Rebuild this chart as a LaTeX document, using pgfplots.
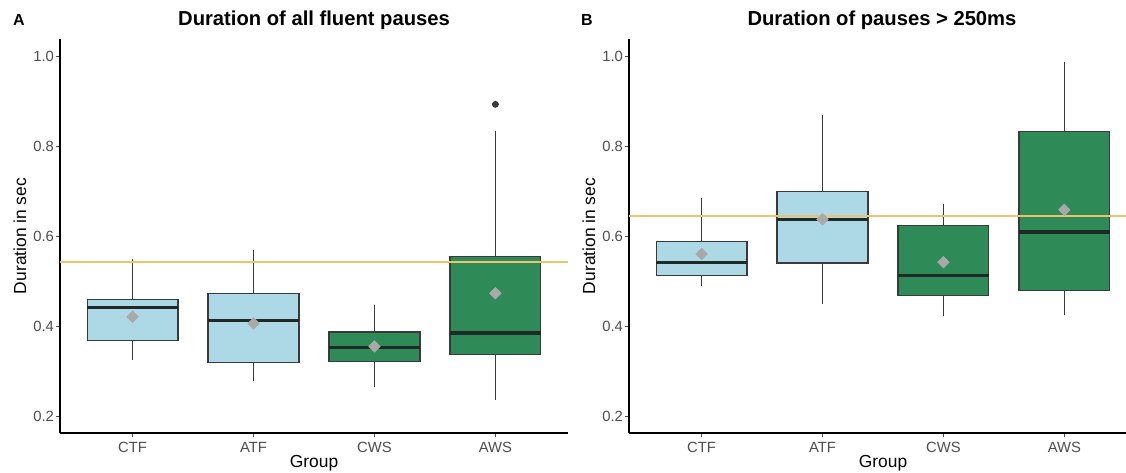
\documentclass[border=0pt]{standalone}
\usepackage{fontspec}
\setmainfont{Liberation Sans}
\usepackage{pgfplots}
\pgfplotsset{compat=1.18}
\usepgfplotslibrary{statistics}
\definecolor{lblue}{HTML}{ADD8E6}
\definecolor{sgreen}{HTML}{2E8B57}
\definecolor{boxcol}{HTML}{3A3A3A}
\definecolor{medcol}{HTML}{1F2A26}
\definecolor{whiskcol}{HTML}{3A3A3A}
\definecolor{meancol}{HTML}{A9A9A9}
\definecolor{refline}{HTML}{F3C16A}
\definecolor{tickcol}{HTML}{4D4D4D}
\pgfplotsset{
  panel/.style={
    scale only axis,
    width=254pt, height=197pt,
    xmin=0.4, xmax=4.6, ymin=0.164, ymax=1.038,
    xtick={1,2,3,4}, xticklabels={CTF,ATF,CWS,AWS},
    ytick={0.2,0.4,0.6,0.8,1.0},
    yticklabels={0.2,0.4,0.6,0.8,1.0},
    axis x line*=bottom, axis y line*=left,
    axis line style={-, line width=0.6pt, black},
    tick align=outside, major tick length=2pt,
    tick style={tickcol, line width=0.5pt},
    ticklabel style={font=\fontsize{7.4}{8}\selectfont, text=tickcol},
    xticklabel style={yshift=1pt},
    yticklabel style={xshift=2.5pt},
    clip=false,
    boxplot/draw direction=y,
    boxplot/box extend=0.75,
    boxplot/whisker extend=0,
    boxplot/every box/.style={draw=boxcol, line width=0.7pt},
    boxplot/every whisker/.style={draw=whiskcol, line width=0.6pt},
    boxplot/every median/.style={draw=medcol, line width=1.6pt},
  },
  bxs/.style={draw=boxcol, mark=*, mark size=1.5pt, mark options={fill=boxcol, draw=boxcol}},
}
\begin{document}
\begin{tikzpicture}
\useasboundingbox (0,0) rectangle (563pt,236pt);
% ---------- Panel A ----------
\begin{axis}[panel, at={(30pt,19.5pt)}, anchor=south west]
\addplot[bxs, fill=lblue, boxplot prepared={draw position=1, lower whisker=0.326, lower quartile=0.369, median=0.443, upper quartile=0.460, upper whisker=0.550}] coordinates {};
\addplot[bxs, fill=lblue, boxplot prepared={draw position=2, lower whisker=0.280, lower quartile=0.321, median=0.413, upper quartile=0.474, upper whisker=0.569}] coordinates {};
\addplot[bxs, fill=sgreen, boxplot prepared={draw position=3, lower whisker=0.267, lower quartile=0.323, median=0.354, upper quartile=0.388, upper whisker=0.448}] coordinates {};
\addplot[bxs, fill=sgreen, boxplot prepared={draw position=4, lower whisker=0.238, lower quartile=0.338, median=0.386, upper quartile=0.556, upper whisker=0.833}] coordinates {(0,0.893)};
\addplot[refline, line width=0.8pt] coordinates {(0.4,0.543) (4.6,0.543)};
\addplot[only marks, mark=square*, mark size=2pt,
  mark options={rotate=45, fill=meancol, draw=meancol}]
  coordinates {(1,0.422) (2,0.407) (3,0.356) (4,0.474)};
\end{axis}
% ---------- Panel B ----------
\begin{axis}[panel, width=248.5pt, xmax=4.51, at={(314.5pt,19.5pt)}, anchor=south west]
\addplot[bxs, fill=lblue, boxplot prepared={draw position=1, lower whisker=0.490, lower quartile=0.513, median=0.543, upper quartile=0.589, upper whisker=0.685}] coordinates {};
\addplot[bxs, fill=lblue, boxplot prepared={draw position=2, lower whisker=0.450, lower quartile=0.541, median=0.637, upper quartile=0.700, upper whisker=0.870}] coordinates {};
\addplot[bxs, fill=sgreen, boxplot prepared={draw position=3, lower whisker=0.424, lower quartile=0.469, median=0.513, upper quartile=0.624, upper whisker=0.673}] coordinates {};
\addplot[bxs, fill=sgreen, boxplot prepared={draw position=4, lower whisker=0.426, lower quartile=0.480, median=0.610, upper quartile=0.833, upper whisker=0.986}] coordinates {};
\addplot[refline, line width=0.8pt] coordinates {(0.4,0.646) (4.51,0.646)};
\addplot[only marks, mark=square*, mark size=2pt,
  mark options={rotate=45, fill=meancol, draw=meancol}]
  coordinates {(1,0.561) (2,0.638) (3,0.543) (4,0.659)};
\end{axis}
% ---------- Labels ----------
\node[font=\fontsize{8.7}{10}\selectfont, rotate=90] at (10pt,118pt) {Duration in sec};
\node[font=\fontsize{8.7}{10}\selectfont, rotate=90] at (294.5pt,118pt) {Duration in sec};
\node[font=\fontsize{8.7}{10}\selectfont] at (157pt,4.5pt) {Group};
\node[font=\fontsize{8.7}{10}\selectfont] at (441.5pt,4.5pt) {Group};
\node[font=\bfseries\fontsize{10.1}{12}\selectfont] at (157pt,226pt) {Duration of all fluent pauses};
\node[font=\bfseries\fontsize{10.1}{12}\selectfont] at (441pt,226pt) {Duration of pauses > 250ms};
\node[font=\bfseries\fontsize{8}{10}\selectfont] at (9.5pt,226pt) {A};
\node[font=\bfseries\fontsize{8}{10}\selectfont] at (293.5pt,226pt) {B};
\end{tikzpicture}
\end{document}
